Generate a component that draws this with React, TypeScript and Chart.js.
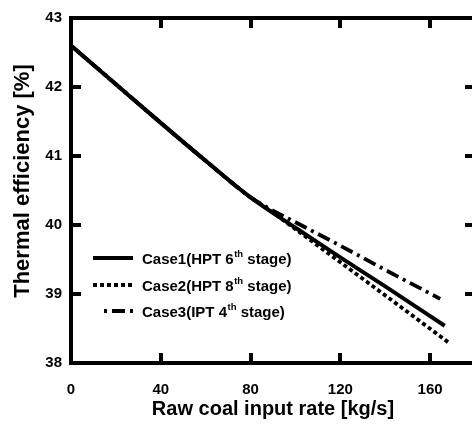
import React, { useEffect, useRef } from "react";
import { Chart, registerables } from "chart.js";

Chart.register(...registerables);

// ---- data ----
const case1X = [0, 20, 40, 60, 80, 100, 120, 140, 166.5];
const case1Y = [42.6, 42.04, 41.48, 40.93, 40.4, 39.96, 39.53, 39.11, 38.54];

const case2X = [0, 20, 40, 60, 80, 86, 100, 120, 140, 168.5];
const case2Y = [42.6, 42.04, 41.48, 40.93, 40.4, 40.27, 39.94, 39.46, 38.98, 38.29];

const case3X = [0, 20, 40, 60, 80, 86, 100, 120, 140, 164.5];
const case3Y = [42.6, 42.04, 41.48, 40.93, 40.4, 40.28, 40.04, 39.7, 39.35, 38.93];

const seriesLabels = ["Case1(HPT 6th stage)", "Case2(HPT 8th stage)", "Case3(IPT 4th stage)"];
const legendPrefix = ["Case1(HPT 6", "Case2(HPT 8", "Case3(IPT 4"];
const legendSup = ["th", "th", "th"];
const legendSuffix = [" stage)", " stage)", " stage)"];

const xTitle = "Raw coal input rate [kg/s]";
const yTitle = "Thermal efficiency [%]";
const xMin = 0;
const xMax = 180;
const xStep = 40;
const yMin = 38;
const yMax = 43;
const yStep = 1;
const xTickValues = [40, 80, 120, 160];
const yTickValues = [39, 40, 41, 42];

const FONT = "'Liberation Sans', Arial, Helvetica, sans-serif";

const toPts = (xs: number[], ys: number[]) => xs.map((x, i) => ({ x, y: ys[i] }));

const framePlugin = {
  id: "frameTicks",
  afterDraw(chart: any) {
    const { ctx, chartArea: a, scales } = chart;
    ctx.save();
    ctx.setLineDash([]);
    ctx.globalAlpha = 1;
    ctx.strokeStyle = "rgb(0,0,0)";
    ctx.fillStyle = "rgb(0,0,0)";
    ctx.lineWidth = 4;
    ctx.lineJoin = "miter";
    ctx.strokeRect(a.left, a.top, a.right - a.left, a.bottom - a.top);
    const L = 10;
    const W = 4;
    xTickValues.forEach((v) => {
      const px = Math.round(scales.x.getPixelForValue(v));
      ctx.fillRect(px - W / 2, a.bottom - L, W, L);
      ctx.fillRect(px - W / 2, a.top, W, L);
    });
    yTickValues.forEach((v) => {
      const py = Math.round(scales.y.getPixelForValue(v));
      ctx.fillRect(a.left, py - W / 2, L, W);
      ctx.fillRect(a.right - L, py - W / 2, L, W);
    });
    ctx.restore();
  },
};

const yTitlePlugin = {
  id: "yTitleText",
  afterDraw(chart: any) {
    const { ctx } = chart;
    ctx.save();
    ctx.translate(23, 181);
    ctx.rotate(-Math.PI / 2);
    ctx.fillStyle = "#000";
    ctx.font = `bold 22px ${FONT}`;
    ctx.textAlign = "center";
    ctx.textBaseline = "middle";
    ctx.fillText(yTitle, 0, 0);
    ctx.restore();
  },
};

const legendPlugin = {
  id: "inlineLegend",
  afterDraw(chart: any) {
    const { ctx } = chart;
    const rows = [258, 285, 311];
    const starts = [93, 93, 102];
    const end = 133;
    const textX = 142;
    ctx.save();
    chart.data.datasets.forEach((ds: any, i: number) => {
      const y = rows[i];
      ctx.strokeStyle = ds.borderColor;
      ctx.lineWidth = ds.borderWidth;
      ctx.setLineDash(ds.borderDash || []);
      ctx.lineDashOffset = i === 2 ? 16 : 0;
      ctx.beginPath();
      ctx.moveTo(starts[i], y);
      ctx.lineTo(end, y);
      ctx.stroke();
      ctx.setLineDash([]);
      ctx.fillStyle = "#000";
      ctx.textBaseline = "alphabetic";
      ctx.textAlign = "left";
      const base = y + 5.5;
      ctx.font = `bold 15px ${FONT}`;
      let x = textX;
      ctx.fillText(legendPrefix[i], x, base);
      x += ctx.measureText(legendPrefix[i]).width + 0.5;
      ctx.font = `bold 9.5px ${FONT}`;
      ctx.fillText(legendSup[i], x, base - 6.5);
      x += ctx.measureText(legendSup[i]).width;
      ctx.font = `bold 15px ${FONT}`;
      ctx.fillText(legendSuffix[i], x, base);
    });
    ctx.restore();
  },
};

export default function App() {
  const ref = useRef<HTMLCanvasElement | null>(null);

  useEffect(() => {
    if (!ref.current) return;
    const common = {
      fill: false,
      pointRadius: 0,
      borderColor: "#000",
      backgroundColor: "#000",
      borderWidth: 4,
      cubicInterpolationMode: "monotone" as const,
    };
    const chart = new Chart(ref.current, {
      type: "line",
      data: {
        datasets: [
          { ...common, label: seriesLabels[0], data: toPts(case1X, case1Y), borderDash: [] },
          { ...common, label: seriesLabels[1], data: toPts(case2X, case2Y), borderDash: [4, 3], borderWidth: 3.8 },
          { ...common, label: seriesLabels[2], data: toPts(case3X, case3Y), borderDash: [13, 5, 3, 5], borderWidth: 3.8 },
        ],
      },
      options: {
        animation: false,
        responsive: false,
        devicePixelRatio: 1,
        layout: { padding: { left: 0, right: 5, top: 13, bottom: 0 } },
        plugins: {
          legend: { display: false },
          tooltip: { enabled: false },
          title: { display: false },
        },
        scales: {
          x: {
            type: "linear",
            min: xMin,
            max: xMax,
            grid: { display: false, drawTicks: false },
            border: { display: false },
            ticks: {
              stepSize: xStep,
              includeBounds: false,
              padding: 18,
              color: "#000",
              font: { family: FONT, size: 15, weight: "bold" },
              maxRotation: 0,
            },
            title: {
              display: true,
              text: xTitle,
              color: "#000",
              font: { family: FONT, size: 20, weight: "bold" },
              padding: { top: 0, bottom: 3 },
            },
            afterFit: (s: any) => {
              s.height = 61;
            },
          },
          y: {
            type: "linear",
            min: yMin,
            max: yMax,
            grid: { display: false, drawTicks: false },
            border: { display: false },
            ticks: {
              stepSize: yStep,
              padding: 9,
              color: "#000",
              font: { family: FONT, size: 15, weight: "bold" },
            },
            title: { display: false, text: yTitle },
            afterFit: (s: any) => {
              s.width = 71;
            },
          },
        },
      },
      plugins: [framePlugin, yTitlePlugin, legendPlugin],
    });
    return () => chart.destroy();
  }, []);

  return (
    <div
      style={{
        position: "absolute",
        left: 0,
        top: 0,
        width: 472,
        height: 424,
        overflow: "hidden",
        background: "#fff",
      }}
    >
      <canvas ref={ref} width={480} height={424} style={{ width: 480, height: 424, display: "block" }} />
    </div>
  );
}
